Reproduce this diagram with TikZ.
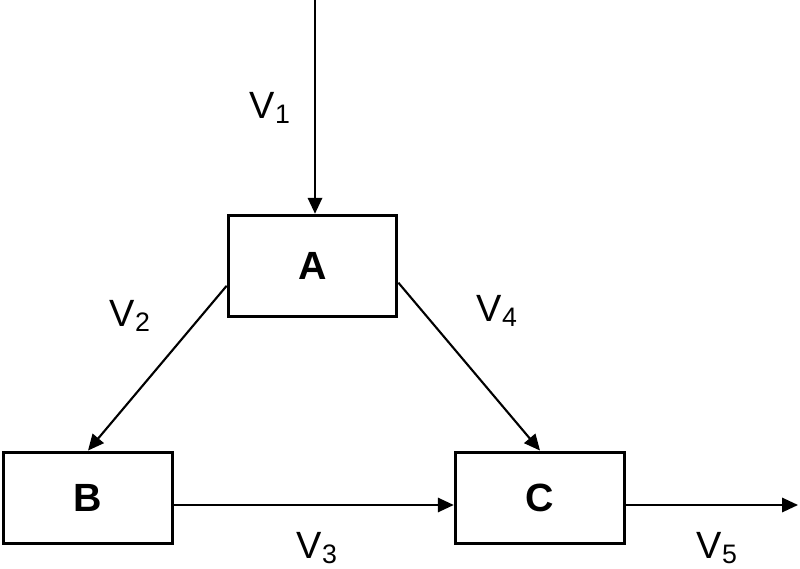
\documentclass[tikz,border=0pt]{standalone}
\usepackage{fontspec}
\setmainfont{Liberation Sans}
\usepackage{tikz}
\usetikzlibrary{positioning,arrows.meta,calc}

\newcommand{\vlabel}[1]{V\raisebox{-3pt}{\fontsize{19}{19}\selectfont #1}}

\begin{document}
\begin{tikzpicture}[x=0.025cm, y=-0.025cm,
    block/.style={draw, line width=2.6pt, inner sep=0pt, font=\fontsize{28}{28}\selectfont\bfseries},
    flow/.style={-{Triangle[length=0.4cm,width=0.36cm]}, line width=1.5pt},
    flowlabel/.style={font=\fontsize{27}{27}\selectfont, inner sep=0pt}]
  \useasboundingbox (0,0) rectangle (800,569);
  % blocks
  \node[block, minimum width=4.2cm, minimum height=2.52cm] (A) at (312.5,266) {A};
  \node[block, minimum width=4.22cm, minimum height=2.28cm] (B) at (88,498) {B};
  \node[block, minimum width=4.22cm, minimum height=2.28cm] (C) at (540,498) {C};
  \coordinate (in) at (315,0);
  \coordinate (out) at (798,505);
  % connectors
  \draw[flow] (in) -- (in |- A.north);
  \draw[flow] (A.193) -- (B.north);
  \draw[flow] (A.-11) -- (C.north);
  \draw[flow] (B.east |- out) -- (C.west |- out);
  \draw[flow] (C.east |- out) -- (out);
  % labels
  \node[flowlabel] (v1) at (270,108) {\vlabel{1}};
  \node[flowlabel] (v2) at (130,316) {\vlabel{2}};
  \node[flowlabel] (v4) at (497,311) {\vlabel{4}};
  \node[flowlabel] (v3) at (317,548) {\vlabel{3}};
  \node[flowlabel] (v5) at (717,548) {\vlabel{5}};
\end{tikzpicture}
\end{document}
